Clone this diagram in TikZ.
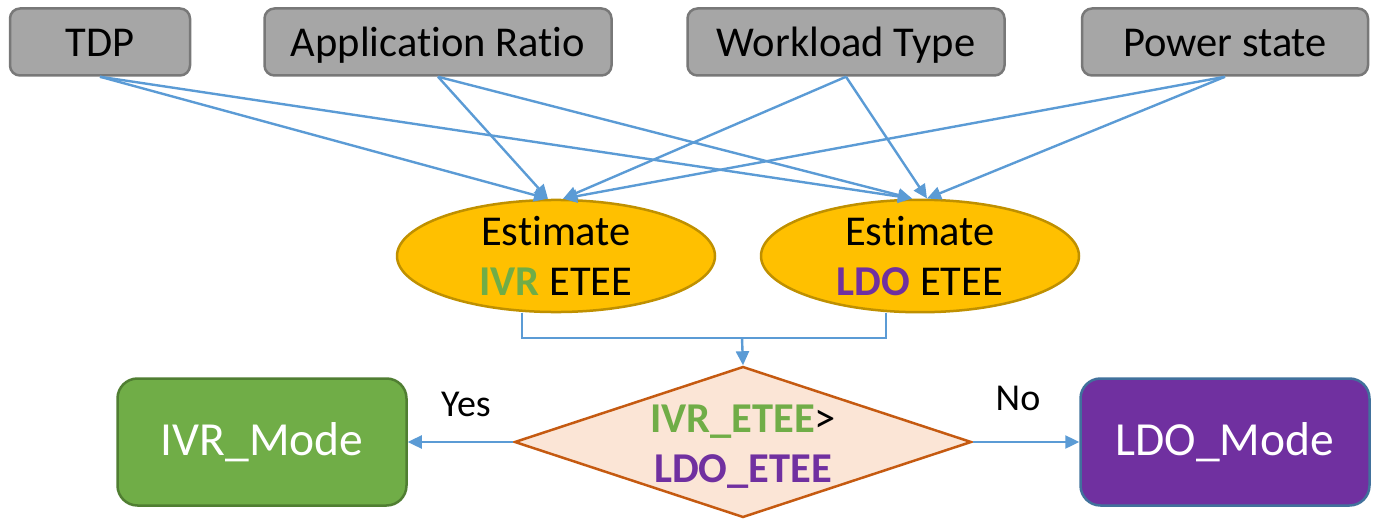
\documentclass[tikz,border=0pt]{standalone}
\usepackage{fontspec}
\setmainfont{Carlito}[Ligatures=NoCommon]
\usetikzlibrary{shapes.geometric,arrows.meta,calc}
\definecolor{arrowblue}{HTML}{5B9BD5}
\definecolor{boxfill}{HTML}{A6A6A6}
\definecolor{boxline}{HTML}{787878}
\definecolor{ellfill}{HTML}{FFC000}
\definecolor{ellline}{HTML}{BF9000}
\definecolor{decfill}{HTML}{FBE5D6}
\definecolor{decline}{HTML}{C55A11}
\definecolor{ivrgreen}{HTML}{70AD47}
\definecolor{ivrline}{HTML}{507E32}
\definecolor{ldopurple}{HTML}{7030A0}
\definecolor{ldoline}{HTML}{41719C}
\begin{document}
\begin{tikzpicture}[x=1pt,y=-1pt,
  every node/.style={font=\fontsize{42.5}{50}\selectfont, inner sep=0pt},
  topbox/.style={draw=boxline, fill=boxfill, line width=2.5pt, rounded corners=10pt, minimum height=67pt, text height=30pt, text depth=0pt},
  estell/.style={ellipse, draw=ellline, fill=ellfill, line width=2.5pt, minimum width=318pt, minimum height=112pt},
  modebox/.style={line width=2.5pt, rounded corners=20pt, minimum width=289pt, minimum height=127pt, text=white, font=\fontsize{47.5}{50}\selectfont},
  conn/.style={draw=arrowblue, line width=2.4pt, -{Triangle[length=14pt,width=13pt]}},
  plainconn/.style={draw=arrowblue, line width=2.4pt},
  lbl/.style={font=\fontsize{38}{44}\selectfont}
]
\useasboundingbox (0,0) rectangle (1374,519);

% top boxes
\node[topbox, minimum width=180pt] (tdp) at (100,42) {TDP};
\node[topbox, minimum width=347pt] (app) at (438,42) {Application Ratio};
\node[topbox, minimum width=317pt] (work) at (846,42) {Workload Type};
\node[topbox, minimum width=286pt] (pow) at (1225,42) {Power state};

% ellipses
\node[estell, align=center] (ivr) at (556,256) {Estimate\\{\bfseries\color{ivrgreen}IVR} ETEE};
\node[estell, align=center] (ldo) at (920,256) {Estimate\\{\bfseries\color{ldopurple}LDO} ETEE};

% arrows into ellipses
\coordinate (ivrL) at ($(ivr.north)+(-8,0)$);
\coordinate (ivrR) at ($(ivr.north)+(7,0)$);
\coordinate (ldoL) at ($(ldo.north)+(-8,0)$);
\coordinate (ldoR) at ($(ldo.north)+(7,0)$);
\draw[conn] (tdp.south) -- (ivrL);
\draw[conn] (tdp.south) -- (ldoL);
\draw[conn] (app.south) -- (ivrL);
\draw[conn] (app.south) -- (ldoL);
\draw[conn] (work.south) -- (ivrR);
\draw[conn] (work.south) -- (ldoR);
\draw[conn] (pow.south) -- (ivrR);
\draw[conn] (pow.south) -- (ldoR);

% decision
\node[diamond, draw=decline, fill=decfill, line width=2.5pt, minimum width=457pt, minimum height=151pt] (dec) at (743,442) {};
\node[align=center] (dectext) at (743,447) {{\bfseries\color{ivrgreen}IVR\_ETEE}>\\{\bfseries\color{ldopurple}LDO\_ETEE}};

% merge lines
\coordinate (merge) at (742,338);
\draw[plainconn] ($(ivr.south)+(-34,0)$) |- (merge) -| ($(ldo.south)+(-34,0)$);
\draw[conn] (merge) -- (dec.north);

% mode boxes
\node[modebox, draw=ivrline, fill=ivrgreen] (ivrmode) at (262,442) {IVR\_Mode};
\node[modebox, draw=ldoline, fill=ldopurple] (ldomode) at (1225,442) {LDO\_Mode};

\draw[conn] (dec.west) -- (ivrmode.east);
\draw[conn] (dec.east) -- (ldomode.west);

\node[lbl] (yes) at (466,404) {Yes};
\node[lbl] (no) at (1018,398) {No};
\end{tikzpicture}
\end{document}
